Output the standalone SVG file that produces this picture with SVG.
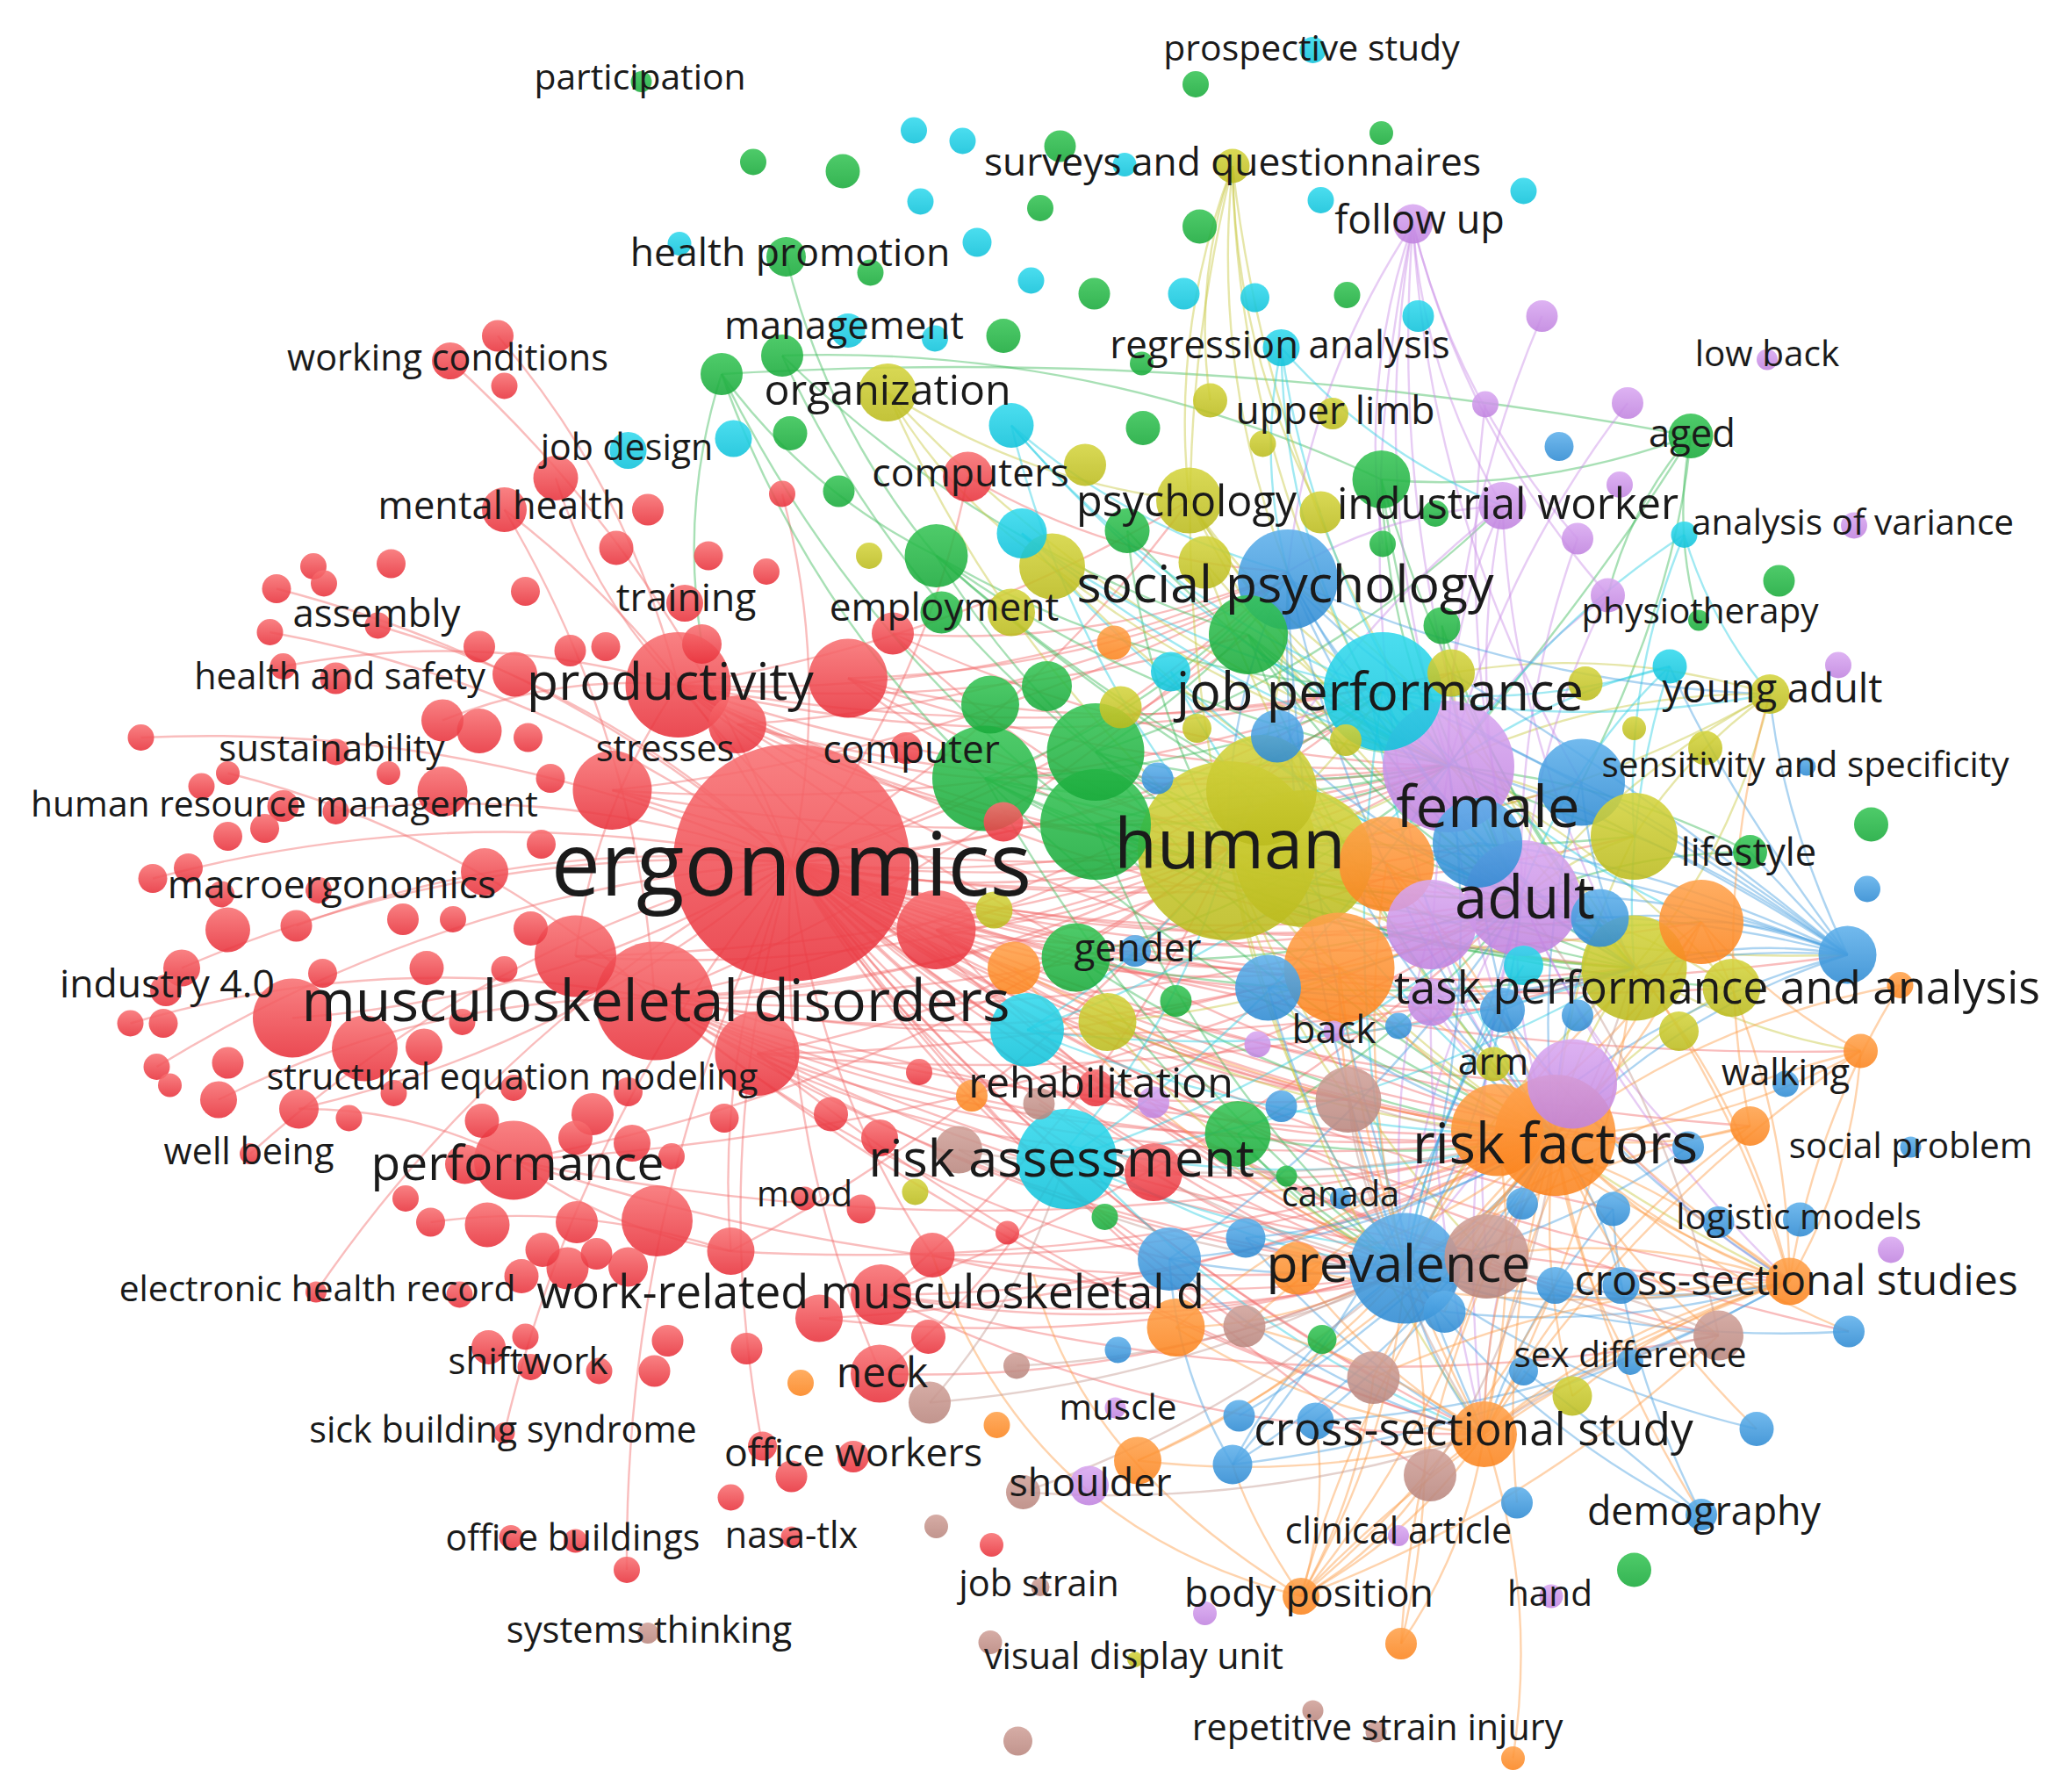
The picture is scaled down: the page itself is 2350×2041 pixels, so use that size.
<svg xmlns="http://www.w3.org/2000/svg" width="2350" height="2041" viewBox="0 0 2350 2041">
<defs>
<linearGradient id="gR" x1="0" y1="0" x2="0" y2="1"><stop offset="0" stop-color="#f87072"/><stop offset="1" stop-color="#e8313b"/></linearGradient>
<linearGradient id="gG" x1="0" y1="0" x2="0" y2="1"><stop offset="0" stop-color="#36c455"/><stop offset="1" stop-color="#19aa3b"/></linearGradient>
<linearGradient id="gB" x1="0" y1="0" x2="0" y2="1"><stop offset="0" stop-color="#5eb0eb"/><stop offset="1" stop-color="#2e8ad2"/></linearGradient>
<linearGradient id="gY" x1="0" y1="0" x2="0" y2="1"><stop offset="0" stop-color="#d4d43e"/><stop offset="1" stop-color="#bbbb1e"/></linearGradient>
<linearGradient id="gP" x1="0" y1="0" x2="0" y2="1"><stop offset="0" stop-color="#d9a8f1"/><stop offset="1" stop-color="#c083df"/></linearGradient>
<linearGradient id="gC" x1="0" y1="0" x2="0" y2="1"><stop offset="0" stop-color="#32d9ed"/><stop offset="1" stop-color="#10c2da"/></linearGradient>
<linearGradient id="gO" x1="0" y1="0" x2="0" y2="1"><stop offset="0" stop-color="#ffa24c"/><stop offset="1" stop-color="#fb841e"/></linearGradient>
<linearGradient id="gN" x1="0" y1="0" x2="0" y2="1"><stop offset="0" stop-color="#d0a199"/><stop offset="1" stop-color="#b9867e"/></linearGradient>
</defs>
<style>
circle{fill-opacity:.88}
.r{fill:url(#gR)}.g{fill:url(#gG)}.b{fill:url(#gB)}.y{fill:url(#gY)}
.p{fill:url(#gP)}.c{fill:url(#gC)}.o{fill:url(#gO)}.n{fill:url(#gN)}
#connectors path{fill:none;stroke-width:1.6;stroke-opacity:.45}
.er path{stroke:#f26d6d}.eg path{stroke:#3dbb5a}.ey path{stroke:#c8c840}.ep path{stroke:#c98fe6}
.ec path{stroke:#2dcfe3}.eb path{stroke:#4a9fe0}.eo path{stroke:#fd9d4a}.en path{stroke:#c39891}
#labels text{font-family:"Open Sans","Liberation Sans",sans-serif;fill:#1a1a1a;text-anchor:middle}
</style>
<rect width="2350" height="2041" fill="#ffffff"/>
<g transform="scale(1.5)">
<g id="connectors">
<g class="er">
<path d="M601 655Q424 520 205 480"/><path d="M601 655Q365 548 107 560"/><path d="M601 655Q357 603 116 667"/><path d="M601 655Q360 639 138 735"/><path d="M601 655Q341 674 119 810"/><path d="M601 655Q368 716 190 876"/><path d="M601 655Q381 775 240 981"/><path d="M601 655Q440 845 383 1088"/><path d="M601 655Q524 495 383 387"/><path d="M601 655Q517 433 342 274"/><path d="M601 655Q466 527 287 475"/><path d="M601 655Q433 594 255 616"/><path d="M601 655Q407 634 225 703"/><path d="M601 655Q474 908 476 1192"/><path d="M601 655Q543 797 555 950"/><path d="M601 655Q618 817 708 953"/><path d="M601 655Q588 857 669 1043"/><path d="M601 655Q537 873 579 1098"/><path d="M601 655Q768 690 933 644"/><path d="M601 655Q859 677 1100 580"/><path d="M601 655Q874 734 1154 682"/><path d="M601 655Q866 828 1181 862"/><path d="M601 655Q797 865 1067 963"/><path d="M601 655Q816 589 978 434"/><path d="M601 655Q836 641 1040 522"/><path d="M601 655Q911 772 1241 735"/><path d="M601 655Q680 787 812 870"/><path d="M601 655Q812 935 1127 1089"/><path d="M601 655Q708 840 888 956"/><path d="M601 655Q790 796 1024 835"/><path d="M601 655Q941 760 1292 700"/><path d="M601 655Q994 786 1403 725"/><path d="M601 655Q703 524 735 362"/><path d="M601 655Q631 514 594 375"/><path d="M601 655Q829 868 1129 954"/><path d="M601 655Q877 810 1194 823"/><path d="M601 655Q942 905 1359 973"/><path d="M601 655Q910 918 1305 1014"/><path d="M601 655Q799 745 1017 735"/><path d="M601 655Q431 504 210 447"/>
<path d="M601 655Q792 603 948 482"/><path d="M601 655Q779 548 903 380"/><path d="M601 655Q866 633 1102 511"/><path d="M601 655Q863 700 1122 640"/><path d="M601 655Q923 709 1241 635"/><path d="M601 655Q839 727 1087 702"/><path d="M601 655Q860 765 1141 767"/><path d="M601 655Q750 792 940 861"/><path d="M601 655Q715 800 876 890"/><path d="M601 655Q849 810 1137 858"/><path d="M601 655Q948 774 1315 750"/><path d="M601 655Q904 737 1215 697"/><path d="M601 655Q907 685 1201 594"/><path d="M601 655Q772 739 963 750"/><path d="M601 655Q797 936 1086 1120"/><path d="M601 655Q783 895 1043 1046"/><path d="M601 655Q859 874 1181 976"/><path d="M601 655Q738 865 945 1007"/><path d="M601 655Q815 875 1097 996"/><path d="M601 655Q920 831 1282 871"/><path d="M601 655Q993 808 1413 798"/><path d="M601 655Q945 828 1329 855"/><path d="M601 655Q887 849 1225 918"/><path d="M601 655Q967 913 1404 1011"/>
<path d="M497 758Q296 719 99 777"/><path d="M497 758Q322 756 166 835"/><path d="M497 758Q356 633 173 587"/><path d="M497 758Q729 753 933 644"/><path d="M497 758Q827 892 1181 862"/><path d="M497 758Q757 928 1067 963"/><path d="M497 758Q819 741 1100 580"/><path d="M497 758Q641 852 812 870"/><path d="M497 758Q760 808 1017 735"/><path d="M497 758Q668 904 888 956"/><path d="M497 758Q485 558 383 387"/>
<path d="M497 758Q821 762 1122 640"/><path d="M497 758Q834 787 1156 682"/><path d="M497 758Q769 648 978 440"/><path d="M497 758Q797 698 1050 525"/><path d="M497 758Q871 822 1241 735"/><path d="M497 758Q779 988 1127 1089"/><path d="M497 758Q794 920 1129 954"/><path d="M497 758Q753 850 1024 835"/><path d="M497 758Q708 855 940 861"/><path d="M497 758Q907 953 1359 973"/>
<path d="M515 520Q367 477 215 506"/><path d="M515 520Q478 371 378 255"/><path d="M515 520Q709 632 933 644"/><path d="M515 520Q777 584 1040 522"/><path d="M515 520Q800 620 1100 580"/><path d="M515 520Q622 583 748 591"/><path d="M515 520Q756 533 978 434"/><path d="M515 520Q422 512 336 547"/><path d="M515 520Q451 614 437 726"/>
<path d="M515 520Q819 665 1156 682"/><path d="M515 520Q814 758 1181 862"/><path d="M515 520Q747 797 1067 963"/><path d="M515 520Q856 700 1241 735"/><path d="M515 520Q723 489 903 380"/><path d="M515 520Q735 544 948 482"/><path d="M515 520Q809 574 1102 511"/><path d="M515 520Q745 678 1017 735"/>
<path d="M390 881Q313 841 227 842"/><path d="M390 881Q689 827 933 644"/><path d="M390 881Q787 966 1181 862"/><path d="M390 881Q464 935 555 950"/><path d="M390 881Q720 990 1067 963"/><path d="M390 881Q793 858 1156 682"/>
<path d="M669 983Q870 1021 1067 963"/><path d="M669 983Q940 983 1181 862"/><path d="M669 983Q885 1091 1127 1089"/><path d="M669 983Q983 1074 1305 1014"/><path d="M669 983Q842 845 933 644"/><path d="M669 1043Q761 973 812 870"/><path d="M669 1043Q878 1051 1067 963"/><path d="M708 953Q918 1004 1129 954"/><path d="M669 983Q943 881 1156 682"/><path d="M669 983Q902 1015 1129 954"/>
<path d="M437 726Q695 745 933 644"/><path d="M711 706Q861 757 1017 735"/><path d="M644 515Q841 566 1040 522"/><path d="M678 481Q834 493 978 434"/><path d="M735 362Q847 427 978 434"/><path d="M575 800Q871 904 1181 862"/><path d="M711 706Q829 702 933 644"/><path d="M644 515Q773 615 933 644"/><path d="M575 800Q773 765 933 644"/><path d="M575 800Q801 941 1067 963"/><path d="M465 600Q694 678 933 644"/><path d="M465 600Q785 666 1100 580"/><path d="M422 363Q450 453 515 520"/><path d="M227 842Q436 794 601 655"/><path d="M222 773Q426 759 601 655"/><path d="M555 950Q438 912 327 928"/>
<path d="M560 550Q737 635 933 644"/><path d="M560 550Q780 537 978 440"/><path d="M560 550Q827 620 1100 582"/><path d="M711 706Q936 739 1156 682"/><path d="M711 706Q930 831 1181 862"/><path d="M711 706Q863 870 1067 963"/><path d="M711 706Q899 649 1050 525"/><path d="M711 706Q855 802 1024 835"/><path d="M644 515Q865 594 1100 582"/><path d="M644 515Q819 511 978 440"/><path d="M644 515Q883 650 1156 682"/><path d="M575 800Q877 799 1156 682"/><path d="M575 800Q915 834 1241 735"/><path d="M575 800Q822 1000 1127 1089"/><path d="M437 726Q783 720 1100 582"/><path d="M437 726Q795 868 1181 862"/><path d="M465 600Q765 621 1050 525"/><path d="M465 600Q737 571 978 440"/><path d="M622 1001Q915 987 1181 862"/><path d="M622 1001Q848 1027 1067 963"/><path d="M555 950Q877 969 1181 862"/><path d="M555 950Q774 836 933 646"/><path d="M708 953Q954 955 1181 862"/><path d="M876 890Q964 946 1067 963"/><path d="M876 890Q1031 907 1181 862"/><path d="M832 826Q1003 879 1181 862"/><path d="M832 826Q1008 786 1156 682"/><path d="M762 624Q935 637 1100 582"/><path d="M678 481Q879 574 1100 582"/><path d="M678 481Q789 589 933 646"/>
</g>
<g class="eg">
<path d="M548 284Q916 262 1284 331"/><path d="M548 284Q611 461 748 591"/><path d="M548 284Q649 489 832 626"/><path d="M594 270Q746 418 948 482"/><path d="M594 270Q677 449 832 571"/><path d="M597 195Q627 322 711 422"/><path d="M711 422Q795 560 933 644"/><path d="M711 422Q886 548 1100 580"/><path d="M711 422Q863 511 1040 522"/><path d="M748 591Q925 627 1100 580"/><path d="M748 591Q940 685 1154 682"/><path d="M748 591Q932 778 1181 862"/><path d="M748 591Q882 540 978 434"/><path d="M748 591Q977 722 1241 735"/><path d="M832 571Q965 607 1100 580"/><path d="M832 571Q1008 514 1141 384"/><path d="M832 626Q909 822 1067 963"/><path d="M832 626Q1053 718 1292 700"/><path d="M1049 364Q1162 375 1284 331"/><path d="M1284 331Q1238 384 1221 452"/><path d="M1284 331Q1222 433 1100 580"/><path d="M1284 331Q1274 452 1201 594"/><path d="M1284 331Q1270 402 1290 471"/><path d="M948 482Q1027 607 1154 682"/><path d="M817 727Q983 838 1181 862"/><path d="M817 727Q976 687 1100 580"/><path d="M940 861Q991 927 1067 963"/><path d="M594 270Q832 262 1049 364"/><path d="M548 284Q613 373 711 422"/><path d="M548 284Q516 384 533 489"/>
<path d="M748 591Q906 588 1050 525"/><path d="M748 591Q870 809 1067 963"/><path d="M748 591Q990 662 1241 635"/><path d="M748 591Q1016 727 1315 750"/><path d="M832 571Q983 659 1156 682"/><path d="M832 571Q977 751 1181 862"/><path d="M832 571Q1020 694 1241 735"/><path d="M832 571Q918 520 978 440"/><path d="M832 626Q988 686 1156 682"/><path d="M832 626Q983 779 1181 862"/><path d="M832 626Q1026 721 1241 735"/><path d="M832 626Q970 631 1100 582"/><path d="M832 626Q951 597 1050 525"/><path d="M948 482Q1014 547 1100 582"/><path d="M948 482Q1027 695 1181 862"/><path d="M948 482Q1069 638 1241 735"/><path d="M948 482Q1079 588 1241 635"/><path d="M711 422Q908 597 1156 682"/><path d="M711 422Q945 632 1241 735"/><path d="M817 727Q918 870 1067 963"/><path d="M817 727Q991 738 1156 682"/><path d="M817 727Q1028 773 1241 735"/><path d="M940 861Q1060 886 1181 862"/><path d="M940 861Q1066 793 1156 682"/><path d="M1049 364Q1053 478 1100 582"/><path d="M1049 364Q1071 534 1156 682"/><path d="M1049 364Q1108 569 1241 735"/><path d="M1095 475Q1105 585 1156 682"/><path d="M1095 475Q1142 620 1241 735"/><path d="M1329 647Q1221 592 1100 582"/><path d="M1329 647Q1239 647 1156 682"/><path d="M856 403Q960 517 1100 582"/><path d="M856 403Q870 532 933 646"/>
</g>
<g class="ey">
<path d="M936 126Q889 249 903 380"/><path d="M936 126Q906 213 919 304"/><path d="M936 126Q920 285 978 434"/><path d="M936 126Q938 266 1003 389"/><path d="M936 126Q940 336 1040 522"/><path d="M936 126Q873 385 933 644"/><path d="M936 126Q964 373 1100 580"/><path d="M674 298Q779 366 903 380"/><path d="M674 298Q762 502 933 644"/><path d="M674 298Q721 379 799 430"/><path d="M674 298Q853 490 1100 580"/><path d="M903 380Q978 504 1100 580"/><path d="M903 380Q993 561 1154 682"/><path d="M933 644Q1031 783 1181 862"/><path d="M933 644Q962 820 1067 963"/><path d="M933 644Q1076 727 1241 735"/><path d="M933 644Q1153 635 1344 527"/><path d="M1241 735Q1318 643 1344 527"/><path d="M1344 527Q1216 525 1100 580"/><path d="M1344 527Q1225 490 1102 511"/><path d="M1241 735Q1196 792 1181 862"/><path d="M1241 735Q1151 641 1100 580"/>
<path d="M933 646Q1041 686 1156 682"/><path d="M933 646Q1023 631 1100 582"/><path d="M933 646Q976 548 978 440"/><path d="M933 646Q1004 597 1050 525"/><path d="M933 646Q986 887 1127 1089"/><path d="M933 646Q1113 852 1359 973"/><path d="M933 646Q1160 733 1403 725"/><path d="M933 646Q960 750 1024 835"/><path d="M933 646Q1000 820 1129 954"/><path d="M1241 735Q1204 700 1156 682"/><path d="M1241 735Q1131 832 1067 963"/><path d="M1241 735Q1139 561 978 440"/><path d="M1241 735Q1321 784 1413 798"/><path d="M1241 635Q1194 650 1156 682"/><path d="M1241 635Q1176 594 1100 582"/><path d="M1241 635Q1188 743 1181 862"/><path d="M1315 750Q1242 700 1156 682"/><path d="M1315 750Q1237 793 1181 862"/><path d="M1315 750Q1224 644 1100 582"/><path d="M903 380Q962 467 1050 525"/><path d="M903 380Q1036 591 1241 735"/><path d="M799 430Q934 536 1100 582"/><path d="M799 430Q952 592 1156 682"/><path d="M915 427Q992 523 1100 582"/><path d="M915 427Q1005 671 1181 862"/><path d="M1102 511Q1112 602 1156 682"/><path d="M1102 511Q1149 637 1241 735"/><path d="M1344 527Q1234 586 1156 682"/><path d="M1344 527Q1282 571 1241 635"/><path d="M841 776Q1002 853 1181 862"/><path d="M841 776Q935 892 1067 963"/><path d="M841 776Q1008 761 1156 682"/>
</g>
<g class="ep">
<path d="M1073 170Q1081 285 1141 384"/><path d="M1073 170Q1037 378 1100 580"/><path d="M1073 170Q1052 436 1154 682"/><path d="M1073 170Q1106 304 1198 409"/><path d="M1073 170Q1113 329 1221 452"/><path d="M1073 170Q1086 397 1201 594"/><path d="M1073 170Q1032 288 1050 413"/><path d="M1073 170Q1016 437 1087 700"/><path d="M1073 170Q993 291 978 434"/><path d="M1141 384Q1097 477 1100 580"/><path d="M1141 384Q1111 535 1154 682"/><path d="M1141 384Q1006 489 933 644"/><path d="M1141 384Q1149 572 1241 735"/><path d="M1141 384Q1053 389 978 434"/><path d="M1154 682Q1145 775 1181 862"/><path d="M1154 682Q1076 812 1067 963"/><path d="M1194 823Q1128 948 1127 1089"/>
<path d="M1100 582Q1112 730 1181 862"/><path d="M1100 582Q1063 838 1127 1089"/><path d="M1156 682Q1101 883 1127 1089"/><path d="M1156 682Q1228 848 1359 973"/><path d="M1156 682Q1115 815 1129 954"/><path d="M1156 682Q1200 789 1282 871"/><path d="M1087 702Q1118 791 1181 862"/><path d="M1087 702Q1051 831 1067 963"/><path d="M1194 823Q1117 880 1067 963"/><path d="M1194 823Q1262 915 1359 973"/><path d="M1087 761Q1124 821 1181 862"/><path d="M1221 452Q1148 505 1100 582"/><path d="M1221 452Q1166 561 1156 682"/><path d="M1198 409Q1150 541 1156 682"/><path d="M1236 306Q1140 430 1100 582"/><path d="M1171 240Q1101 404 1100 582"/><path d="M1128 307Q1104 497 1156 682"/>
</g>
<g class="ec">
<path d="M973 264Q955 350 978 434"/><path d="M973 264Q975 401 1040 522"/><path d="M973 264Q998 437 1100 580"/><path d="M973 264Q1043 344 1141 384"/><path d="M768 323Q860 403 978 434"/><path d="M768 323Q880 455 1040 522"/><path d="M768 323Q812 503 933 644"/><path d="M776 405Q894 495 1040 522"/><path d="M776 405Q932 588 1154 682"/><path d="M1040 522Q1069 709 1181 862"/><path d="M1040 522Q1114 652 1241 735"/><path d="M1040 522Q1156 541 1268 506"/><path d="M812 870Q928 947 1067 963"/><path d="M812 870Q997 910 1181 862"/><path d="M812 870Q899 772 933 644"/><path d="M812 870Q943 1017 1127 1089"/><path d="M780 782Q964 719 1100 580"/><path d="M780 782Q1016 813 1241 735"/><path d="M1279 406Q1233 516 1241 635"/><path d="M1268 506Q1190 580 1154 682"/>
<path d="M1050 525Q1087 614 1156 682"/><path d="M1050 525Q1015 746 1067 963"/><path d="M1050 525Q1197 555 1344 527"/><path d="M1050 525Q1154 637 1292 700"/><path d="M810 880Q1003 816 1156 682"/><path d="M810 880Q1040 851 1241 735"/><path d="M810 880Q985 760 1100 582"/><path d="M810 880Q962 949 1129 954"/><path d="M780 782Q972 862 1181 862"/><path d="M780 782Q870 729 933 646"/><path d="M776 405Q920 526 1100 582"/><path d="M768 323Q908 486 1100 582"/><path d="M889 510Q1005 623 1156 682"/><path d="M889 510Q1000 715 1181 862"/><path d="M1268 506Q1176 527 1100 582"/><path d="M1268 506Q1232 618 1241 735"/><path d="M1157 733Q1089 839 1067 963"/><path d="M1279 406Q1172 476 1100 582"/><path d="M1279 406Q1299 473 1344 527"/>
</g>
<g class="eb">
<path d="M1403 725Q1286 635 1201 594"/><path d="M1403 725Q1234 616 1100 580"/><path d="M1403 725Q1273 673 1154 682"/><path d="M1403 725Q1311 661 1241 635"/><path d="M1403 725Q1357 677 1329 647"/><path d="M1403 725Q1344 699 1292 700"/><path d="M1403 725Q1306 688 1215 697"/><path d="M1403 725Q1309 599 1268 506"/><path d="M1403 725Q1158 628 933 644"/><path d="M1403 725Q1323 711 1241 735"/><path d="M1403 725Q1197 579 1040 522"/><path d="M1403 725Q1267 715 1141 767"/><path d="M1403 725Q1276 766 1181 862"/><path d="M978 434Q1021 522 1100 580"/><path d="M978 434Q930 534 933 644"/><path d="M978 434Q1036 579 1154 682"/><path d="M978 434Q1028 672 1181 862"/><path d="M978 434Q1073 616 1241 735"/><path d="M1067 963Q1136 926 1181 862"/><path d="M1067 963Q1082 1033 1127 1089"/><path d="M1067 963Q983 1021 936 1112"/><path d="M1067 963Q1157 1083 1292 1150"/><path d="M1067 963Q1129 775 1100 580"/><path d="M1067 963Q1212 1003 1359 973"/><path d="M888 956Q1045 944 1181 862"/><path d="M888 956Q991 1051 1127 1089"/><path d="M888 956Q893 1040 936 1112"/><path d="M936 1112Q1088 1016 1181 862"/><path d="M999 1079Q1192 1069 1359 973"/><path d="M1292 1150Q1230 1026 1225 918"/><path d="M1292 1150Q1211 1079 1157 1041"/><path d="M946 940Q1003 966 1067 963"/><path d="M946 940Q1072 929 1181 862"/><path d="M963 750Q1059 832 1181 862"/><path d="M936 1112Q1097 923 1154 682"/>
<path d="M978 440Q970 710 1067 963"/><path d="M978 440Q1074 539 1201 594"/><path d="M978 440Q1152 520 1344 527"/><path d="M978 440Q988 779 1127 1089"/><path d="M1067 963Q1140 831 1156 682"/><path d="M1067 963Q1184 939 1282 871"/><path d="M1067 963Q1188 1051 1334 1085"/><path d="M1067 963Q1231 1021 1404 1011"/><path d="M1201 594Q1164 726 1181 862"/><path d="M1201 594Q1207 668 1241 735"/><path d="M1122 640Q1129 757 1181 862"/><path d="M1122 640Q1172 699 1241 735"/><path d="M963 750Q1066 735 1156 682"/><path d="M963 750Q994 867 1067 963"/><path d="M963 750Q1104 770 1241 735"/><path d="M970 559Q1051 639 1156 682"/><path d="M970 559Q1045 732 1181 862"/><path d="M888 956Q1049 846 1156 682"/><path d="M888 956Q1009 979 1129 954"/><path d="M946 940Q1022 1033 1127 1089"/><path d="M1141 767Q1084 858 1067 963"/><path d="M1141 767Q1229 892 1359 973"/><path d="M1215 697Q1182 776 1181 862"/><path d="M1225 918Q1159 994 1127 1089"/><path d="M1181 976Q1270 992 1359 973"/><path d="M1231 976Q1217 914 1181 862"/><path d="M1097 996Q1230 1011 1359 973"/><path d="M941 1075Q1082 992 1181 862"/><path d="M999 1079Q1112 989 1181 862"/><path d="M936 1112Q1161 1085 1359 973"/><path d="M1403 725Q1353 620 1344 527"/><path d="M1403 725Q1243 682 1087 702"/><path d="M1403 725Q1289 753 1194 823"/><path d="M1403 725Q1254 654 1122 640"/><path d="M1403 725Q1234 588 1102 511"/>
</g>
<g class="eo">
<path d="M1181 862Q1257 938 1359 973"/><path d="M1181 862Q1127 969 1127 1089"/><path d="M1181 862Q1042 1014 988 1212"/><path d="M1181 862Q1225 953 1305 1014"/><path d="M1181 862Q1256 876 1329 855"/><path d="M1181 862Q1305 858 1413 798"/><path d="M1181 862Q1019 900 893 1008"/><path d="M1181 862Q1076 1041 1064 1248"/><path d="M1181 862Q1114 778 1017 735"/><path d="M1181 862Q1255 794 1292 700"/><path d="M1359 973Q1229 1003 1127 1089"/><path d="M1359 973Q1407 891 1413 798"/><path d="M1359 973Q1358 828 1292 700"/><path d="M1359 973Q1144 1048 988 1212"/><path d="M1359 973Q1242 935 1129 954"/><path d="M1359 973Q1329 840 1241 735"/><path d="M988 1212Q1072 1167 1127 1089"/><path d="M988 1212Q950 1156 936 1112"/><path d="M988 1212Q1048 1178 1086 1120"/><path d="M988 1212Q1057 1097 1067 963"/><path d="M988 1212Q1009 1146 999 1079"/><path d="M988 1212Q780 1160 708 953"/><path d="M988 1212Q820 1110 785 968"/><path d="M893 1008Q985 1006 1067 963"/><path d="M893 1008Q1000 1076 1127 1089"/><path d="M985 963Q1095 936 1181 862"/><path d="M1017 735Q1015 855 1067 963"/><path d="M1017 735Q1159 895 1359 973"/><path d="M1292 700Q1162 874 1127 1089"/><path d="M1443 748Q1298 774 1181 862"/><path d="M1329 855Q1200 948 1127 1089"/><path d="M864 1109Q1052 1023 1181 862"/><path d="M864 1109Q983 1060 1067 963"/><path d="M1064 1248Q1114 1176 1127 1089"/><path d="M1064 1248Q1099 1105 1067 963"/><path d="M1149 1335Q1168 1209 1127 1089"/><path d="M1344 527Q1297 689 1329 855"/>
<path d="M1181 862Q1138 746 1053 656"/><path d="M1181 862Q1126 921 1097 996"/><path d="M1181 862Q1235 989 1334 1085"/><path d="M1181 862Q1278 959 1404 1011"/><path d="M1181 862Q1094 940 1043 1046"/><path d="M1181 862Q1049 911 945 1007"/><path d="M1181 862Q1139 999 1152 1141"/><path d="M1181 862Q1208 1017 1292 1150"/><path d="M1181 862Q1168 962 1194 1060"/><path d="M1181 862Q1192 954 1238 1034"/><path d="M1359 973Q1208 1019 1086 1120"/><path d="M1359 973Q1194 978 1043 1046"/><path d="M1359 973Q1260 893 1137 858"/><path d="M1359 973Q1315 821 1215 697"/><path d="M1359 973Q1268 1000 1194 1060"/><path d="M1127 1089Q1155 974 1137 858"/><path d="M1127 1089Q1044 1030 945 1007"/><path d="M1127 1089Q1219 923 1241 735"/><path d="M1137 858Q1092 903 1067 963"/><path d="M1137 858Q1230 795 1292 700"/><path d="M1017 735Q1092 722 1156 682"/><path d="M1017 735Q1037 923 1127 1089"/><path d="M1053 656Q1029 811 1067 963"/><path d="M1053 656Q1174 845 1359 973"/><path d="M1292 700Q1153 809 1067 963"/><path d="M1292 700Q1343 761 1413 798"/><path d="M770 735Q963 840 1181 862"/><path d="M770 735Q896 879 1067 963"/><path d="M985 963Q1043 1040 1127 1089"/><path d="M985 963Q1171 1005 1359 973"/><path d="M1329 855Q1187 883 1067 963"/><path d="M1413 798Q1224 846 1067 963"/><path d="M1413 798Q1241 915 1127 1089"/><path d="M1443 748Q1378 852 1359 973"/><path d="M988 1212Q1166 1145 1305 1014"/><path d="M988 1212Q1108 1113 1181 976"/><path d="M988 1212Q1084 1097 1129 954"/><path d="M988 1212Q1032 1135 1043 1046"/><path d="M864 1109Q997 1125 1127 1089"/>
</g>
<g class="en">
<path d="M1129 954Q1166 914 1181 862"/><path d="M1129 954Q1210 1005 1305 1014"/><path d="M1305 1014Q1207 1030 1127 1089"/><path d="M1305 1014Q1192 959 1067 963"/><path d="M1305 1014Q1269 830 1154 682"/><path d="M1086 1120Q1164 1002 1181 862"/><path d="M1024 835Q1030 904 1067 963"/><path d="M706 1065Q782 980 812 870"/><path d="M728 873Q886 959 1067 963"/>
<path d="M1129 954Q1207 856 1241 735"/><path d="M1024 835Q1100 864 1181 862"/><path d="M1024 835Q1050 972 1127 1089"/><path d="M945 1007Q1010 997 1067 963"/><path d="M728 873Q956 913 1181 862"/><path d="M706 1065Q897 1050 1067 963"/><path d="M777 1133Q939 1077 1067 963"/><path d="M777 1133Q956 1146 1127 1089"/><path d="M789 838Q916 928 1067 963"/><path d="M772 1037Q927 1030 1067 963"/>
</g>
</g>
<g id="nodes">
<g id="node-ergonomics"><circle class="r" cx="601" cy="655" r="90"/></g>
<g id="node-human"><circle class="y" cx="932" cy="646" r="68"/></g>
<circle id="u1" class="y" cx="990" cy="652" r="52"/>
<g id="node-female"><circle class="p" cx="1100" cy="582" r="50"/></g>
<g id="node-musculoskeletal-disorders"><circle class="r" cx="497" cy="760" r="45"/></g>
<g id="node-job-performance"><circle class="c" cx="1050" cy="525" r="45"/></g>
<g id="node-risk-factors"><circle class="o" cx="1181" cy="862" r="46"/></g>
<g id="node-adult"><circle class="p" cx="1156" cy="682" r="44"/></g>
<circle id="u2" class="y" cx="958" cy="600" r="42"/>
<g id="node-prevalence"><circle class="b" cx="1067" cy="963" r="42"/></g>
<circle id="u3" class="o" cx="1017" cy="735" r="42"/>
<circle id="u4" class="g" cx="832" cy="626" r="42"/>
<g id="node-productivity"><circle class="r" cx="515" cy="520" r="40"/></g>
<g id="node-task-performance-and-analysis"><circle class="y" cx="1241" cy="735" r="40"/></g>
<circle id="u5" class="g" cx="748" cy="591" r="40"/>
<g id="node-social-psychology"><circle class="b" cx="978" cy="440" r="38"/></g>
<g id="node-risk-assessment"><circle class="c" cx="810" cy="880" r="38"/></g>
<circle id="u6" class="g" cx="832" cy="571" r="37"/>
<circle id="u7" class="o" cx="1053" cy="656" r="36"/>
<circle id="u8" class="o" cx="1137" cy="858" r="35"/>
<circle id="u9" class="b" cx="1122" cy="640" r="34"/>
<circle id="u10" class="p" cx="1087" cy="702" r="34"/>
<circle id="u11" class="p" cx="1194" cy="823" r="34"/>
<circle id="u12" class="b" cx="1201" cy="594" r="33"/>
<circle id="u13" class="y" cx="1241" cy="635" r="33"/>
<circle id="u14" class="o" cx="1292" cy="700" r="32"/>
<circle id="u15" class="r" cx="575" cy="800" r="32"/>
<circle id="u16" class="n" cx="1129" cy="954" r="32"/>
<circle id="u17" class="r" cx="437" cy="726" r="31"/>
<circle id="u18" class="g" cx="948" cy="482" r="30"/>
<g id="node-stresses"><circle class="r" cx="465" cy="600" r="30"/></g>
<circle id="u19" class="r" cx="222" cy="773" r="30"/>
<g id="node-performance"><circle class="r" cx="390" cy="881" r="30"/></g>
<circle id="u20" class="r" cx="644" cy="515" r="30"/>
<circle id="u21" class="r" cx="711" cy="706" r="30"/>
<circle id="u22" class="c" cx="780" cy="782" r="28"/>
<circle id="u23" class="r" cx="499" cy="927" r="27"/>
<g id="node-gender"><circle class="g" cx="817" cy="727" r="26"/></g>
<circle id="u24" class="b" cx="963" cy="750" r="25"/>
<circle id="u25" class="y" cx="799" cy="430" r="25"/>
<g id="node-psychology"><circle class="y" cx="903" cy="380" r="25"/></g>
<circle id="u26" class="n" cx="1024" cy="835" r="25"/>
<circle id="u27" class="g" cx="940" cy="861" r="25"/>
<g id="node-cross-sectional-study"><circle class="o" cx="1127" cy="1089" r="25"/></g>
<circle id="u28" class="r" cx="277" cy="796" r="25"/>
<circle id="u29" class="g" cx="711" cy="422" r="24"/>
<circle id="u30" class="b" cx="888" cy="956" r="24"/>
<g id="node-work-related-musculoskeletal-d"><circle class="r" cx="669" cy="983" r="23"/></g>
<circle id="u31" class="r" cx="560" cy="550" r="22"/>
<circle id="u32" class="g" cx="1049" cy="364" r="22"/>
<circle id="u33" class="o" cx="893" cy="1008" r="22"/>
<g id="node-neck"><circle class="r" cx="668" cy="1043" r="22"/></g>
<circle id="u34" class="y" cx="1315" cy="750" r="22"/>
<circle id="u35" class="b" cx="1403" cy="725" r="22"/>
<circle id="u36" class="b" cx="1215" cy="697" r="22"/>
<circle id="u37" class="y" cx="841" cy="776" r="22"/>
<circle id="u38" class="r" cx="876" cy="890" r="22"/>
<circle id="u39" class="g" cx="752" cy="535" r="22"/>
<g id="node-organization"><circle class="y" cx="674" cy="298" r="22"/></g>
<circle id="u40" class="y" cx="915" cy="427" r="20"/>
<circle id="u41" class="o" cx="985" cy="963" r="20"/>
<circle id="u42" class="n" cx="1086" cy="1120" r="20"/>
<circle id="u43" class="n" cx="1043" cy="1046" r="20"/>
<circle id="u44" class="o" cx="770" cy="735" r="20"/>
<circle id="u45" class="b" cx="970" cy="559" r="20"/>
<circle id="u46" class="n" cx="1305" cy="1014" r="19"/>
<circle id="u47" class="c" cx="776" cy="405" r="19"/>
<g id="node-computers"><circle class="r" cx="735" cy="362" r="19"/></g>
<circle id="u48" class="g" cx="795" cy="521" r="19"/>
<circle id="u49" class="r" cx="336" cy="601" r="19"/>
<g id="node-cross-sectional-studies"><circle class="o" cx="1359" cy="973" r="18"/></g>
<circle id="u50" class="o" cx="864" cy="1109" r="18"/>
<circle id="u51" class="r" cx="622" cy="1001" r="18"/>
<circle id="u52" class="r" cx="555" cy="950" r="18"/>
<circle id="u53" class="y" cx="1102" cy="511" r="18"/>
<g id="node-industrial-worker"><circle class="p" cx="1141" cy="384" r="18"/></g>
<circle id="u54" class="y" cx="768" cy="465" r="18"/>
<circle id="u55" class="n" cx="728" cy="873" r="18"/>
<circle id="u56" class="r" cx="368" cy="662" r="18"/>
<circle id="u57" class="p" cx="1087" cy="761" r="18"/>
<circle id="u58" class="r" cx="708" cy="953" r="17"/>
<circle id="u59" class="c" cx="768" cy="323" r="17"/>
<circle id="u60" class="g" cx="856" cy="403" r="17"/>
<g id="node-aged"><circle class="g" cx="1284" cy="331" r="17"/></g>
<circle id="u61" class="b" cx="1141" cy="767" r="17"/>
<g id="node-mental-health"><circle class="r" cx="383" cy="387" r="17"/></g>
<circle id="u62" class="r" cx="422" cy="363" r="17"/>
<circle id="u63" class="r" cx="173" cy="706" r="17"/>
<circle id="u64" class="r" cx="364" cy="555" r="17"/>
<circle id="u65" class="r" cx="391" cy="512" r="17"/>
<circle id="u66" class="r" cx="370" cy="930" r="17"/>
<circle id="u67" class="r" cx="678" cy="481" r="16"/>
<circle id="u68" class="g" cx="594" cy="270" r="16"/>
<circle id="u69" class="g" cx="548" cy="284" r="16"/>
<circle id="u70" class="y" cx="824" cy="353" r="16"/>
<circle id="u71" class="y" cx="1003" cy="389" r="16"/>
<g id="node-employment"><circle class="g" cx="715" cy="465" r="16"/></g>
<circle id="u72" class="y" cx="851" cy="537" r="16"/>
<circle id="u73" class="n" cx="945" cy="1007" r="16"/>
<circle id="u74" class="n" cx="706" cy="1065" r="16"/>
<circle id="u75" class="b" cx="1097" cy="996" r="16"/>
<circle id="u76" class="r" cx="336" cy="547" r="16"/>
<circle id="u77" class="r" cx="438" cy="928" r="16"/>
<circle id="u78" class="r" cx="450" cy="846" r="16"/>
<circle id="u79" class="r" cx="431" cy="963" r="16"/>
<circle id="u80" class="r" cx="533" cy="489" r="15"/>
<g id="node-health-promotion"><circle class="g" cx="597" cy="195" r="15"/></g>
<g id="node-follow-up"><circle class="p" cx="1073" cy="170" r="15"/></g>
<circle id="u81" class="c" cx="889" cy="510" r="15"/>
<circle id="u82" class="r" cx="762" cy="624" r="15"/>
<circle id="u83" class="b" cx="946" cy="940" r="15"/>
<circle id="u84" class="y" cx="1275" cy="783" r="15"/>
<circle id="u85" class="o" cx="1329" cy="855" r="15"/>
<circle id="u86" class="y" cx="1194" cy="1060" r="15"/>
<circle id="u87" class="b" cx="936" cy="1112" r="15"/>
<g id="node-shoulder"><circle class="p" cx="827" cy="1128" r="15"/></g>
<g id="node-young-adult"><circle class="y" cx="1344" cy="527" r="15"/></g>
<circle id="u88" class="c" cx="1157" cy="733" r="15"/>
<circle id="u89" class="r" cx="227" cy="842" r="15"/>
<circle id="u90" class="r" cx="353" cy="884" r="15"/>
<circle id="u91" class="r" cx="477" cy="962" r="15"/>
<circle id="u92" class="y" cx="755" cy="691" r="14"/>
<circle id="u93" class="r" cx="668" cy="864" r="14"/>
<circle id="u94" class="b" cx="1181" cy="976" r="14"/>
<circle id="u95" class="b" cx="1231" cy="976" r="14"/>
<circle id="u96" class="b" cx="999" cy="1079" r="14"/>
<g id="node-body-position"><circle class="o" cx="988" cy="1212" r="14"/></g>
<circle id="u97" class="g" cx="1095" cy="475" r="14"/>
<g id="node-rehabilitation"><circle class="r" cx="832" cy="826" r="14"/></g>
<circle id="u98" class="r" cx="138" cy="735" r="14"/>
<circle id="u99" class="r" cx="322" cy="795" r="14"/>
<circle id="u100" class="r" cx="166" cy="835" r="14"/>
<circle id="u101" class="r" cx="480" cy="868" r="14"/>
<g id="node-job-design"><circle class="c" cx="477" cy="342" r="14"/></g>
<g id="node-working-conditions"><circle class="r" cx="342" cy="274" r="14"/></g>
<g id="node-regression-analysis"><circle class="c" cx="973" cy="264" r="14"/></g>
<circle id="u102" class="c" cx="557" cy="333" r="14"/>
<g id="node-training"><circle class="r" cx="520" cy="458" r="14"/></g>
<circle id="u103" class="o" cx="846" cy="488" r="13"/>
<circle id="u104" class="r" cx="631" cy="846" r="13"/>
<circle id="u105" class="o" cx="1413" cy="798" r="13"/>
<g id="node-arm"><circle class="y" cx="1134" cy="808" r="13"/></g>
<circle id="u106" class="b" cx="1225" cy="918" r="13"/>
<g id="node-logistic-models"><circle class="b" cx="1367" cy="926" r="13"/></g>
<circle id="u107" class="b" cx="1334" cy="1085" r="13"/>
<circle id="u108" class="g" cx="1241" cy="1192" r="13"/>
<circle id="u109" class="r" cx="705" cy="1015" r="13"/>
<circle id="u110" class="n" cx="777" cy="1133" r="13"/>
<circle id="u111" class="y" cx="1204" cy="519" r="13"/>
<circle id="u112" class="c" cx="1268" cy="506" r="13"/>
<circle id="u113" class="y" cx="1295" cy="568" r="13"/>
<circle id="u114" class="g" cx="1421" cy="626" r="13"/>
<g id="node-lifestyle"><circle class="g" cx="1329" cy="647" r="13"/></g>
<circle id="u115" class="p" cx="1221" cy="452" r="13"/>
<g id="node-management"><circle class="c" cx="644" cy="251" r="13"/></g>
<circle id="u116" class="g" cx="762" cy="255" r="13"/>
<circle id="u117" class="g" cx="640" cy="130" r="13"/>
<circle id="u118" class="g" cx="911" cy="172" r="13"/>
<circle id="u119" class="g" cx="868" cy="325" r="13"/>
<circle id="u120" class="y" cx="919" cy="304" r="13"/>
<circle id="u121" class="g" cx="600" cy="329" r="13"/>
<g id="node-surveys-and-questionnaires"><circle class="y" cx="936" cy="126" r="13"/></g>
<circle id="u122" class="r" cx="324" cy="735" r="13"/>
<circle id="u123" class="r" cx="403" cy="705" r="13"/>
<circle id="u124" class="r" cx="437" cy="864" r="13"/>
<circle id="u125" class="r" cx="366" cy="851" r="13"/>
<circle id="u126" class="r" cx="412" cy="949" r="13"/>
<circle id="u127" class="r" cx="396" cy="969" r="13"/>
<circle id="u128" class="r" cx="371" cy="1023" r="13"/>
<circle id="u129" class="r" cx="468" cy="416" r="13"/>
<circle id="u130" class="g" cx="1351" cy="441" r="12"/>
<circle id="u131" class="y" cx="909" cy="553" r="11"/>
<circle id="u132" class="y" cx="1022" cy="562" r="12"/>
<circle id="u133" class="b" cx="879" cy="591" r="12"/>
<circle id="u134" class="b" cx="862" cy="722" r="12"/>
<circle id="u135" class="g" cx="893" cy="760" r="12"/>
<circle id="u136" class="o" cx="738" cy="832" r="12"/>
<circle id="u137" class="n" cx="789" cy="838" r="12"/>
<circle id="u138" class="p" cx="876" cy="837" r="12"/>
<circle id="u139" class="b" cx="973" cy="840" r="12"/>
<circle id="u140" class="b" cx="1198" cy="771" r="12"/>
<circle id="u141" class="b" cx="1282" cy="871" r="12"/>
<circle id="u142" class="b" cx="1156" cy="914" r="12"/>
<circle id="u143" class="b" cx="1305" cy="928" r="12"/>
<circle id="u144" class="b" cx="1404" cy="1011" r="12"/>
<circle id="u145" class="b" cx="1152" cy="1141" r="12"/>
<g id="node-demography"><circle class="b" cx="1292" cy="1150" r="12"/></g>
<circle id="u146" class="o" cx="1064" cy="1248" r="12"/>
<circle id="u147" class="b" cx="941" cy="1075" r="12"/>
<g id="node-office-workers"><circle class="r" cx="648" cy="1106" r="12"/></g>
<circle id="u148" class="r" cx="601" cy="1121" r="12"/>
<circle id="u149" class="r" cx="567" cy="1024" r="12"/>
<circle id="u150" class="r" cx="497" cy="1041" r="12"/>
<circle id="u151" class="r" cx="507" cy="1018" r="12"/>
<circle id="u152" class="r" cx="453" cy="952" r="12"/>
<circle id="u153" class="r" cx="306" cy="698" r="12"/>
<circle id="u154" class="r" cx="225" cy="703" r="12"/>
<g id="node-industry-4-0"><circle class="r" cx="126" cy="752" r="12"/></g>
<circle id="u155" class="r" cx="173" cy="807" r="12"/>
<g id="node-human-resource-management"><circle class="r" cx="215" cy="612" r="12"/></g>
<g id="node-health-and-safety"><circle class="r" cx="255" cy="515" r="12"/></g>
<circle id="u156" class="r" cx="364" cy="491" r="12"/>
<circle id="u157" class="r" cx="433" cy="494" r="12"/>
<circle id="u158" class="r" cx="492" cy="387" r="12"/>
<circle id="u159" class="r" cx="378" cy="255" r="12"/>
<circle id="u160" class="g" cx="637" cy="373" r="12"/>
<g id="node-upper-limb"><circle class="y" cx="1012" cy="314" r="12"/></g>
<circle id="u161" class="c" cx="1077" cy="240" r="12"/>
<circle id="u162" class="p" cx="1171" cy="240" r="12"/>
<circle id="u163" class="c" cx="899" cy="223" r="12"/>
<circle id="u164" class="g" cx="831" cy="223" r="12"/>
<circle id="u165" class="g" cx="805" cy="111" r="12"/>
<circle id="u166" class="p" cx="1236" cy="306" r="12"/>
<circle id="u167" class="p" cx="1198" cy="409" r="12"/>
<g id="node-computer"><circle class="r" cx="688" cy="568" r="12"/></g>
<circle id="u168" class="r" cx="550" cy="849" r="11"/>
<circle id="u169" class="r" cx="654" cy="918" r="11"/>
<circle id="u170" class="g" cx="1004" cy="1017" r="11"/>
<circle id="u171" class="b" cx="1157" cy="1041" r="11"/>
<circle id="u172" class="r" cx="579" cy="1098" r="11"/>
<circle id="u173" class="r" cx="124" cy="777" r="11"/>
<circle id="u174" class="r" cx="245" cy="739" r="11"/>
<circle id="u175" class="r" cx="116" cy="667" r="11"/>
<circle id="u176" class="r" cx="143" cy="659" r="11"/>
<circle id="u177" class="r" cx="173" cy="635" r="11"/>
<circle id="u178" class="r" cx="201" cy="629" r="11"/>
<circle id="u179" class="r" cx="411" cy="641" r="11"/>
<circle id="u180" class="r" cx="418" cy="591" r="11"/>
<circle id="u181" class="r" cx="401" cy="560" r="11"/>
<circle id="u182" class="r" cx="460" cy="491" r="11"/>
<circle id="u183" class="r" cx="210" cy="447" r="11"/>
<circle id="u184" class="r" cx="297" cy="428" r="11"/>
<circle id="u185" class="r" cx="399" cy="449" r="11"/>
<circle id="u186" class="r" cx="538" cy="422" r="11"/>
<circle id="u187" class="r" cx="327" cy="928" r="11"/>
<circle id="u188" class="r" cx="477" cy="829" r="11"/>
<circle id="u189" class="c" cx="742" cy="184" r="11"/>
<circle id="u190" class="c" cx="953" cy="226" r="11"/>
<circle id="u191" class="b" cx="1184" cy="339" r="11"/>
<circle id="u192" class="n" cx="773" cy="1322" r="11"/>
<circle id="u193" class="p" cx="955" cy="793" r="10"/>
<circle id="u194" class="r" cx="698" cy="814" r="10"/>
<circle id="u195" class="y" cx="695" cy="905" r="10"/>
<circle id="u196" class="b" cx="849" cy="1025" r="10"/>
<circle id="u197" class="b" cx="1062" cy="779" r="10"/>
<g id="node-walking"><circle class="b" cx="1356" cy="823" r="10"/></g>
<circle id="u198" class="p" cx="1436" cy="949" r="10"/>
<g id="node-sex-difference"><circle class="b" cx="1238" cy="1034" r="10"/></g>
<circle id="u199" class="o" cx="757" cy="1082" r="10"/>
<circle id="u200" class="n" cx="772" cy="1037" r="10"/>
<circle id="u201" class="o" cx="608" cy="1050" r="10"/>
<circle id="u202" class="r" cx="555" cy="1137" r="10"/>
<circle id="u203" class="r" cx="476" cy="1192" r="10"/>
<circle id="u204" class="r" cx="399" cy="1015" r="10"/>
<g id="node-shiftwork"><circle class="r" cx="403" cy="1038" r="10"/></g>
<circle id="u205" class="r" cx="455" cy="1041" r="10"/>
<circle id="u206" class="r" cx="349" cy="983" r="10"/>
<circle id="u207" class="r" cx="510" cy="878" r="10"/>
<g id="node-structural-equation-modeling"><circle class="r" cx="390" cy="826" r="10"/></g>
<circle id="u208" class="r" cx="299" cy="830" r="10"/>
<circle id="u209" class="r" cx="265" cy="849" r="10"/>
<circle id="u210" class="r" cx="119" cy="810" r="10"/>
<circle id="u211" class="r" cx="351" cy="776" r="10"/>
<circle id="u212" class="r" cx="99" cy="777" r="10"/>
<circle id="u213" class="r" cx="383" cy="736" r="10"/>
<circle id="u214" class="r" cx="344" cy="698" r="10"/>
<circle id="u215" class="r" cx="168" cy="679" r="10"/>
<g id="node-macroergonomics"><circle class="r" cx="242" cy="676" r="10"/></g>
<circle id="u216" class="r" cx="255" cy="616" r="10"/>
<circle id="u217" class="r" cx="153" cy="597" r="10"/>
<circle id="u218" class="r" cx="107" cy="560" r="10"/>
<circle id="u219" class="r" cx="215" cy="506" r="10"/>
<circle id="u220" class="r" cx="205" cy="480" r="10"/>
<g id="node-assembly"><circle class="r" cx="287" cy="475" r="10"/></g>
<circle id="u221" class="r" cx="238" cy="430" r="10"/>
<circle id="u222" class="r" cx="246" cy="443" r="10"/>
<circle id="u223" class="r" cx="383" cy="293" r="10"/>
<circle id="u224" class="r" cx="582" cy="434" r="10"/>
<circle id="u225" class="r" cx="594" cy="375" r="10"/>
<circle id="u226" class="y" cx="660" cy="422" r="10"/>
<circle id="u227" class="y" cx="959" cy="337" r="10"/>
<circle id="u228" class="c" cx="710" cy="257" r="10"/>
<circle id="u229" class="g" cx="1023" cy="224" r="10"/>
<circle id="u230" class="c" cx="783" cy="213" r="10"/>
<circle id="u231" class="g" cx="661" cy="207" r="10"/>
<circle id="u232" class="c" cx="1003" cy="152" r="10"/>
<circle id="u233" class="c" cx="1157" cy="145" r="10"/>
<circle id="u234" class="g" cx="790" cy="158" r="10"/>
<circle id="u235" class="c" cx="699" cy="153" r="10"/>
<circle id="u236" class="g" cx="572" cy="123" r="10"/>
<circle id="u237" class="c" cx="731" cy="107" r="10"/>
<circle id="u238" class="c" cx="694" cy="99" r="10"/>
<circle id="u239" class="g" cx="908" cy="64" r="10"/>
<g id="node-prospective-study"><circle class="c" cx="997" cy="38" r="10"/></g>
<circle id="u240" class="p" cx="1128" cy="307" r="10"/>
<circle id="u241" class="p" cx="1230" cy="368" r="10"/>
<circle id="u242" class="g" cx="1090" cy="390" r="10"/>
<circle id="u243" class="g" cx="1050" cy="413" r="10"/>
<circle id="u244" class="c" cx="1279" cy="406" r="10"/>
<g id="node-analysis-of-variance"><circle class="p" cx="1408" cy="399" r="10"/></g>
<circle id="u245" class="p" cx="1396" cy="505" r="10"/>
<circle id="u246" class="b" cx="1418" cy="675" r="10"/>
<circle id="u247" class="o" cx="1443" cy="748" r="10"/>
<circle id="u248" class="g" cx="839" cy="924" r="10"/>
<circle id="u249" class="r" cx="308" cy="910" r="10"/>
<g id="node-sustainability"><circle class="r" cx="255" cy="571" r="10"/></g>
<circle id="u250" class="r" cx="765" cy="936" r="9"/>
<circle id="u251" class="y" cx="1241" cy="553" r="9"/>
<circle id="u252" class="c" cx="516" cy="185" r="9"/>
<circle id="u253" class="c" cx="854" cy="125" r="9"/>
<circle id="u254" class="g" cx="1049" cy="101" r="9"/>
<circle id="u255" class="g" cx="867" cy="276" r="9"/>
<circle id="u256" class="p" cx="915" cy="1225" r="9"/>
<circle id="u257" class="n" cx="711" cy="1159" r="9"/>
<circle id="u258" class="r" cx="753" cy="1173" r="9"/>
<circle id="u259" class="n" cx="752" cy="1247" r="9"/>
<g id="node-office-buildings"><circle class="r" cx="437" cy="1170" r="9"/></g>
<circle id="u260" class="r" cx="388" cy="1167" r="9"/>
<circle id="u261" class="r" cx="173" cy="587" r="9"/>
<circle id="u262" class="r" cx="295" cy="587" r="9"/>
<circle id="u263" class="r" cx="129" cy="824" r="9"/>
<g id="node-hand"><circle class="p" cx="1178" cy="1212" r="9"/></g>
<circle id="u264" class="o" cx="1149" cy="1335" r="9"/>
<g id="node-mood"><circle class="r" cx="611" cy="910" r="9"/></g>
<circle id="u265" class="g" cx="977" cy="893" r="8"/>
<g id="node-well-being"><circle class="r" cx="190" cy="876" r="8"/></g>
<g id="node-electronic-health-record"><circle class="r" cx="240" cy="981" r="8"/></g>
<g id="node-sick-building-syndrome"><circle class="r" cx="383" cy="1088" r="8"/></g>
<g id="node-nasa-tlx"><circle class="r" cx="601" cy="1167" r="8"/></g>
<g id="node-systems-thinking"><circle class="n" cx="492" cy="1240" r="8"/></g>
<g id="node-participation"><circle class="g" cx="487" cy="62" r="8"/></g>
<g id="node-low-back"><circle class="p" cx="1342" cy="273" r="8"/></g>
<g id="node-physiotherapy"><circle class="g" cx="1290" cy="471" r="8"/></g>
<g id="node-clinical-article"><circle class="p" cx="1062" cy="1166" r="8"/></g>
<g id="node-muscle"><circle class="p" cx="847" cy="1069" r="8"/></g>
<g id="node-repetitive-strain-injury"><circle class="n" cx="1045" cy="1315" r="8"/></g>
<circle id="u266" class="n" cx="997" cy="1299" r="8"/>
<g id="node-social-problem"><circle class="b" cx="1451" cy="871" r="8"/></g>
<g id="node-back"><circle class="p" cx="1013" cy="783" r="8"/></g>
<g id="node-canada"><circle class="b" cx="1018" cy="910" r="8"/></g>
<g id="node-sensitivity-and-specificity"><circle class="b" cx="1372" cy="582" r="7"/></g>
<g id="node-job-strain"><circle class="n" cx="790" cy="1205" r="7"/></g>
<g id="node-visual-display-unit"><circle class="y" cx="862" cy="1260" r="6"/></g>
</g>
<g id="labels">
<text x="486" y="68" font-size="27.2">participation</text>
<text x="996" y="46" font-size="27.3">prospective study</text>
<text x="936" y="133" font-size="29.5">surveys and questionnaires</text>
<text x="1078" y="177" font-size="30">follow up</text>
<text x="600" y="202" font-size="29.7">health promotion</text>
<text x="641" y="257" font-size="29.3">management</text>
<text x="340" y="281" font-size="27.6">working conditions</text>
<text x="972" y="272" font-size="29.2">regression analysis</text>
<text x="1342" y="278" font-size="27">low back</text>
<text x="674" y="307" font-size="32.2">organization</text>
<text x="1014" y="322" font-size="29.6">upper limb</text>
<text x="1285" y="339" font-size="29">aged</text>
<text x="476" y="349" font-size="27.4">job design</text>
<text x="737" y="369" font-size="29.7">computers</text>
<text x="381" y="394" font-size="29">mental health</text>
<text x="901" y="392" font-size="32.3">psychology</text>
<text x="1145" y="394" font-size="32.7">industrial worker</text>
<text x="1407" y="406" font-size="27">analysis of variance</text>
<text x="521" y="464" font-size="29.6">training</text>
<text x="717" y="471" font-size="29.5">employment</text>
<text x="976" y="457" font-size="39.3">social psychology</text>
<text x="1291" y="473" font-size="27">physiotherapy</text>
<text x="286" y="476" font-size="29.2">assembly</text>
<text x="258" y="523" font-size="27.5">health and safety</text>
<text x="509" y="531" font-size="39.3">productivity</text>
<text x="1048" y="539" font-size="39.7">job performance</text>
<text x="1346" y="533" font-size="30.3">young adult</text>
<text x="252" y="578" font-size="28">sustainability</text>
<text x="505" y="578" font-size="27.7">stresses</text>
<text x="692" y="579" font-size="29.5">computer</text>
<text x="1371" y="590" font-size="27">sensitivity and specificity</text>
<text x="216" y="620" font-size="27.2">human resource management</text>
<text x="1130" y="628" font-size="43.7">female</text>
<text x="934" y="659" font-size="52.9">human</text>
<text x="1328" y="657" font-size="29">lifestyle</text>
<text x="601" y="680" font-size="66.8">ergonomics</text>
<text x="252" y="682" font-size="29.6">macroergonomics</text>
<text x="1158" y="697" font-size="44.6">adult</text>
<text x="864" y="730" font-size="29.3">gender</text>
<text x="127" y="757" font-size="29.7">industry 4.0</text>
<text x="1304" y="762" font-size="34.5">task performance and analysis</text>
<text x="498" y="775" font-size="44.2">musculoskeletal disorders</text>
<text x="1013" y="792" font-size="29.4">back</text>
<text x="1134" y="816" font-size="28.4">arm</text>
<text x="1356" y="824" font-size="27.7">walking</text>
<text x="389" y="827" font-size="27.5">structural equation modeling</text>
<text x="836" y="833" font-size="32.2">rehabilitation</text>
<text x="1451" y="879" font-size="27">social problem</text>
<text x="1181" y="883" font-size="42.2">risk factors</text>
<text x="189" y="884" font-size="27.6">well being</text>
<text x="393" y="896" font-size="36.7">performance</text>
<text x="806" y="893" font-size="39.6">risk assessment</text>
<text x="611" y="916" font-size="26.5">mood</text>
<text x="1018" y="916" font-size="26.6">canada</text>
<text x="1366" y="933" font-size="27">logistic models</text>
<text x="1062" y="973" font-size="39.3">prevalence</text>
<text x="1364" y="983" font-size="32">cross-sectional studies</text>
<text x="241" y="988" font-size="27.1">electronic health record</text>
<text x="661" y="993" font-size="34.8">work-related musculoskeletal d</text>
<text x="1238" y="1038" font-size="27">sex difference</text>
<text x="401" y="1043" font-size="27.9">shiftwork</text>
<text x="670" y="1053" font-size="32">neck</text>
<text x="849" y="1078" font-size="27">muscle</text>
<text x="1119" y="1097" font-size="34.3">cross-sectional study</text>
<text x="382" y="1095" font-size="27.5">sick building syndrome</text>
<text x="648" y="1113" font-size="29.8">office workers</text>
<text x="828" y="1136" font-size="29.8">shoulder</text>
<text x="1294" y="1158" font-size="29.9">demography</text>
<text x="1062" y="1172" font-size="27.5">clinical article</text>
<text x="435" y="1177" font-size="27.4">office buildings</text>
<text x="601" y="1175" font-size="27.6">nasa-tlx</text>
<text x="789" y="1212" font-size="27.7">job strain</text>
<text x="994" y="1220" font-size="29.8">body position</text>
<text x="1177" y="1219" font-size="27">hand</text>
<text x="493" y="1247" font-size="27.8">systems thinking</text>
<text x="861" y="1267" font-size="27.5">visual display unit</text>
<text x="1046" y="1321" font-size="27.5">repetitive strain injury</text>
</g>
</g>
</svg>
